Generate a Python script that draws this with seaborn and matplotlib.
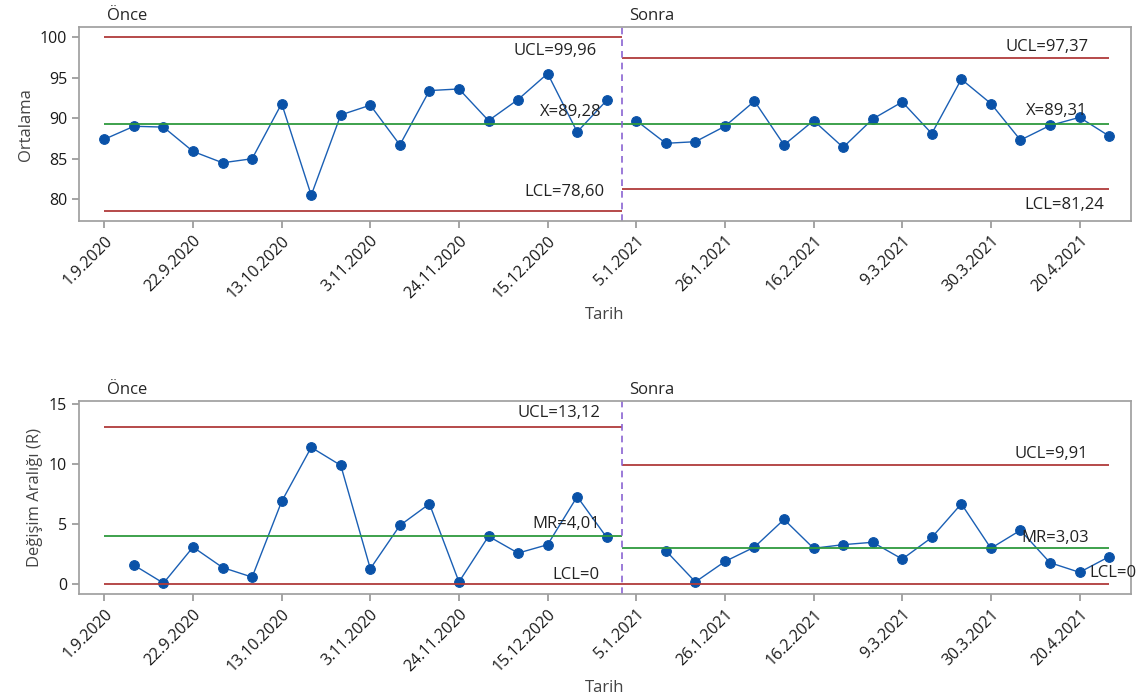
import numpy as np
import pandas as pd
import matplotlib
matplotlib.use("Agg")
import matplotlib.pyplot as plt
import seaborn as sns

# ---------------------------------------------------------------- data
stages = ["Önce", "Sonra"]
n_once = 18
n_sonra = 17

ortalama_once = [87.4, 89.0, 88.9, 85.9, 84.5, 85.0, 91.8, 80.5, 90.4, 91.6,
                 86.7, 93.4, 93.6, 89.7, 92.3, 95.5, 88.3, 92.2]
ortalama_sonra = [89.7, 86.9, 87.1, 89.0, 92.1, 86.7, 89.7, 86.4, 89.9, 92.0,
                  88.1, 94.8, 91.8, 87.3, 89.1, 90.1, 87.8]

# moving range: first obs of each stage has none
mr_once = [1.6, 0.1, 3.1, 1.4, 0.6, 6.9, 11.4, 9.9, 1.3, 4.9, 6.7, 0.2, 4.0,
           2.6, 3.3, 7.3, 3.9]
mr_sonra = [2.8, 0.2, 1.9, 3.1, 5.4, 3.0, 3.3, 3.5, 2.1, 3.9, 6.7, 3.0, 4.5,
            1.8, 1.0, 2.3]

# control limits per stage: (UCL, center, LCL)
i_limits = {"Önce": (99.96, 89.28, 78.60), "Sonra": (97.37, 89.31, 81.24)}
mr_limits = {"Önce": (13.12, 4.01, 0.0), "Sonra": (9.91, 3.03, 0.0)}
i_labels = {"Önce": ("UCL=99,96", "X=89,28", "LCL=78,60"),
            "Sonra": ("UCL=97,37", "X=89,31", "LCL=81,24")}
mr_labels = {"Önce": ("UCL=13,12", "MR=4,01", "LCL=0"),
             "Sonra": ("UCL=9,91", "MR=3,03", "LCL=0")}

tick_pos = [1, 4, 7, 10, 13, 16, 19, 22, 25, 28, 31, 34]
tick_labels = ["1.9.2020", "22.9.2020", "13.10.2020", "3.11.2020",
               "24.11.2020", "15.12.2020", "5.1.2021", "26.1.2021",
               "16.2.2021", "9.3.2021", "30.3.2021", "20.4.2021"]

BLUE = "#1a5fb4"
MARK = "#0a52a8"
RED = "#b03a3a"
GREEN = "#2e9a3e"
PURPLE = "#8a63d2"
FONT = ["Open Sans", "DejaVu Sans"]


def build_frames():
    obs = np.arange(1, n_once + n_sonra + 1)
    stage = ["Önce"] * n_once + ["Sonra"] * n_sonra
    df_i = pd.DataFrame({"obs": obs, "stage": stage,
                         "value": ortalama_once + ortalama_sonra})
    mr_obs = list(obs[1:n_once]) + list(obs[n_once + 1:])
    df_mr = pd.DataFrame({"obs": mr_obs,
                          "stage": ["Önce"] * len(mr_once) + ["Sonra"] * len(mr_sonra),
                          "value": mr_once + mr_sonra})
    return df_i, df_mr


def draw_panel(ax, df, limits, labels, offsets, label_x, ylabel):
    sns.lineplot(data=df, x="obs", y="value", hue="stage",
                 palette=[BLUE, BLUE], marker="o", markersize=7,
                 markerfacecolor=MARK, markeredgecolor=MARK,
                 linewidth=1, legend=False, ax=ax)
    split = n_once + 0.5
    spans = {"Önce": (1, split), "Sonra": (split, n_once + n_sonra)}
    for st in stages:
        ucl, cl, lcl = limits[st]
        x0, x1 = spans[st]
        ax.hlines([ucl, lcl], x0, x1, colors=RED, linewidth=1.3)
        ax.hlines(cl, x0, x1, colors=GREEN, linewidth=1.3)
        for val, txt, off, lx in zip(limits[st], labels[st], offsets[st], label_x[st]):
            ax.annotate(txt, (lx, val), xytext=(0, off), textcoords="offset points",
                        ha="right", va="center", fontsize=12, color="#222222",
                        family=FONT, annotation_clip=False)
    ax.axvline(split, color=PURPLE, linestyle=(0, (4, 3)), linewidth=1.2)
    ax.text(1.1, 1.015, "Önce", transform=ax.get_xaxis_transform(),
            fontsize=12, ha="left", va="bottom", family=FONT)
    ax.text(split + 0.25, 1.015, "Sonra", transform=ax.get_xaxis_transform(),
            fontsize=12, ha="left", va="bottom", family=FONT)
    ax.set_xlim(0.14, 35.74)
    ax.set_xticks(tick_pos)
    ax.set_xticklabels(tick_labels, rotation=45, ha="right",
                       rotation_mode="anchor", fontsize=11.5)
    ax.set_xlabel("Tarih", fontsize=12, color="#444444")
    ax.set_ylabel(ylabel, fontsize=12, color="#444444")
    ax.tick_params(axis="y", labelsize=11.5)
    ax.tick_params(colors="#999999", labelcolor="#1a1a1a", length=5)
    for sp in ax.spines.values():
        sp.set_visible(True)
        sp.set_color("#a0a0a0")


def main():
    sns.set_theme(style="ticks")
    plt.rcParams["font.family"] = FONT
    df_i, df_mr = build_frames()

    fig = plt.figure(figsize=(11.41, 7.0), dpi=100)
    ax1 = fig.add_axes([0.0692, 0.684, 0.922, 0.277])
    ax2 = fig.add_axes([0.0692, 0.151, 0.922, 0.276])

    # label offsets in points and x-positions (obs units)
    i_off = {"Önce": (-9.5, 8.5, 13.5), "Sonra": (8, 9.5, -11)}
    i_lx = {"Önce": (17.67, 17.84, 17.94), "Sonra": (34.31, 34.28, 34.82)}
    draw_panel(ax1, df_i, i_limits, i_labels, i_off, i_lx, "Ortalama")
    ax1.set_ylim(77.3, 101.2)
    ax1.set_yticks([80, 85, 90, 95, 100])

    mr_off = {"Önce": (9.5, 8.5, 6.5), "Sonra": (8, 7.5, 8)}
    mr_lx = {"Önce": (17.8, 17.77, 17.77), "Sonra": (34.28, 34.31, 35.94)}
    draw_panel(ax2, df_mr, mr_limits, mr_labels, mr_off, mr_lx,
               "Değişim Aralığı (R)")
    ax2.set_ylim(-0.83, 15.25)
    ax2.set_yticks([0, 5, 10, 15])

    fig.savefig("out.png", dpi=100)
    plt.close(fig)


if __name__ == "__main__":
    main()
